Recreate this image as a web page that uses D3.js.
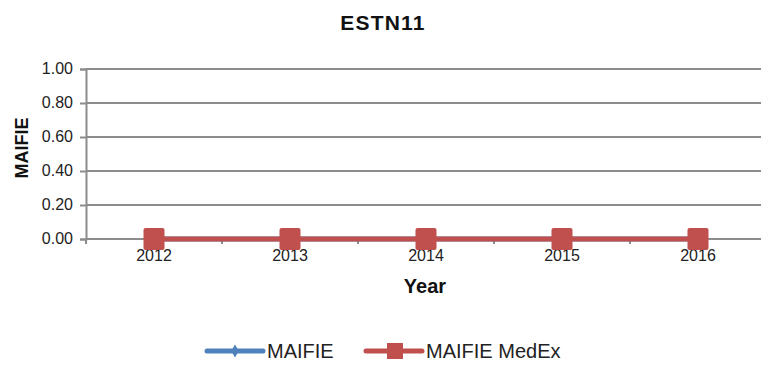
<!DOCTYPE html>
<html><head><meta charset="utf-8">
<script src="https://cdn.jsdelivr.net/npm/d3@7"></script>
<style>body{margin:0;background:#fff;} text{font-family:"Liberation Sans",Arial,sans-serif;}</style>
</head><body><svg id="c" width="761" height="365"></svg>
<script>
const categories = ["2012","2013","2014","2015","2016"];
const maifie = [0,0,0,0,0];
const maifieMedEx = [0,0,0,0,0];
const yTicks = [0,0.2,0.4,0.6,0.8,1.0];

const svg = d3.select("#c");
const pL = 86, pR = 766, pT = 69, pB = 239;
const x = d3.scaleBand().domain(categories).range([pL,pR]);
const y = d3.scaleLinear().domain([0,1]).range([pB,pT]);

// gridlines
svg.append("g").selectAll("line").data(yTicks).join("line")
  .attr("x1",pL).attr("x2",pR).attr("y1",d=>y(d)).attr("y2",d=>y(d))
  .attr("stroke","#8c8c8c").attr("stroke-width",2);

// y axis
const ya = svg.append("g").attr("transform",`translate(${pL},0)`)
  .call(d3.axisLeft(y).tickValues(yTicks).tickFormat(d3.format(".2f")).tickSize(6).tickPadding(7));
ya.select(".domain").attr("stroke","#8c8c8c").attr("stroke-width",2);
ya.selectAll(".tick line").attr("stroke","#8c8c8c").attr("stroke-width",2);
ya.selectAll("text").attr("font-size",16).attr("fill","#222").attr("dy","0.3em");

// x axis
const xa = svg.append("g").attr("transform",`translate(0,${pB})`)
  .call(d3.axisBottom(x).tickSize(0).tickPadding(10));
xa.select(".domain").remove();
xa.selectAll("text").attr("font-size",16).attr("fill","#222").attr("dy","0.72em");
const edges = categories.map(c=>x(c)).concat([pR]);
svg.append("g").selectAll("line").data(edges).join("line")
  .attr("x1",d=>d).attr("x2",d=>d).attr("y1",pB).attr("y2",pB+5)
  .attr("stroke","#8c8c8c").attr("stroke-width",2);

const cx = d=>x(d)+x.bandwidth()/2;
const line = d3.line().x((d,i)=>cx(categories[i])).y(d=>y(d));

// MAIFIE (blue)
svg.append("path").datum(maifie).attr("d",line).attr("fill","none")
  .attr("stroke","#4F81BD").attr("stroke-width",5);
svg.append("g").selectAll("path").data(maifie).join("path")
  .attr("d",d3.symbol(d3.symbolDiamond,60)).attr("fill","#4F81BD")
  .attr("transform",(d,i)=>`translate(${cx(categories[i])},${y(d)})`);

// MAIFIE MedEx (red)
svg.append("path").datum(maifieMedEx).attr("d",line).attr("fill","none")
  .attr("stroke","#C0504D").attr("stroke-width",5);
svg.append("g").selectAll("rect").data(maifieMedEx).join("rect")
  .attr("x",(d,i)=>cx(categories[i])-10.5).attr("y",d=>y(d)-11)
  .attr("width",21).attr("height",22).attr("rx",2).attr("fill","#C0504D");

// Title & axis labels
svg.append("text").attr("x",383).attr("y",30).attr("text-anchor","middle")
  .attr("font-size",21).attr("font-weight","bold").attr("letter-spacing",1.2).attr("fill","#111").text("ESTN11");
svg.append("text").attr("transform","translate(28,148) rotate(-90)").attr("text-anchor","middle")
  .attr("font-size",18).attr("font-weight","bold").attr("fill","#111").text("MAIFIE");
svg.append("text").attr("x",425).attr("y",293).attr("text-anchor","middle")
  .attr("font-size",20).attr("font-weight","bold").attr("fill","#111").text("Year");

// Legend
const lg = svg.append("g");
const legend = [{name:"MAIFIE",color:"#4F81BD",x:207,type:"diamond"},{name:"MAIFIE MedEx",color:"#C0504D",x:366,type:"square"}];
legend.forEach(l=>{
  lg.append("line").attr("x1",l.x).attr("x2",l.x+56).attr("y1",351).attr("y2",351)
    .attr("stroke",l.color).attr("stroke-width",5).attr("stroke-linecap","round");
  if(l.type==="diamond"){
    lg.append("path").attr("d",d3.symbol(d3.symbolDiamond,50)).attr("fill",l.color)
      .attr("transform",`translate(${l.x+28},351)`);
  } else {
    lg.append("rect").attr("x",l.x+21).attr("y",343).attr("width",16).attr("height",16).attr("fill",l.color);
  }
  lg.append("text").attr("x",l.x+60).attr("y",358).attr("font-size",20).attr("fill","#222").text(l.name);
});
</script></body></html>
